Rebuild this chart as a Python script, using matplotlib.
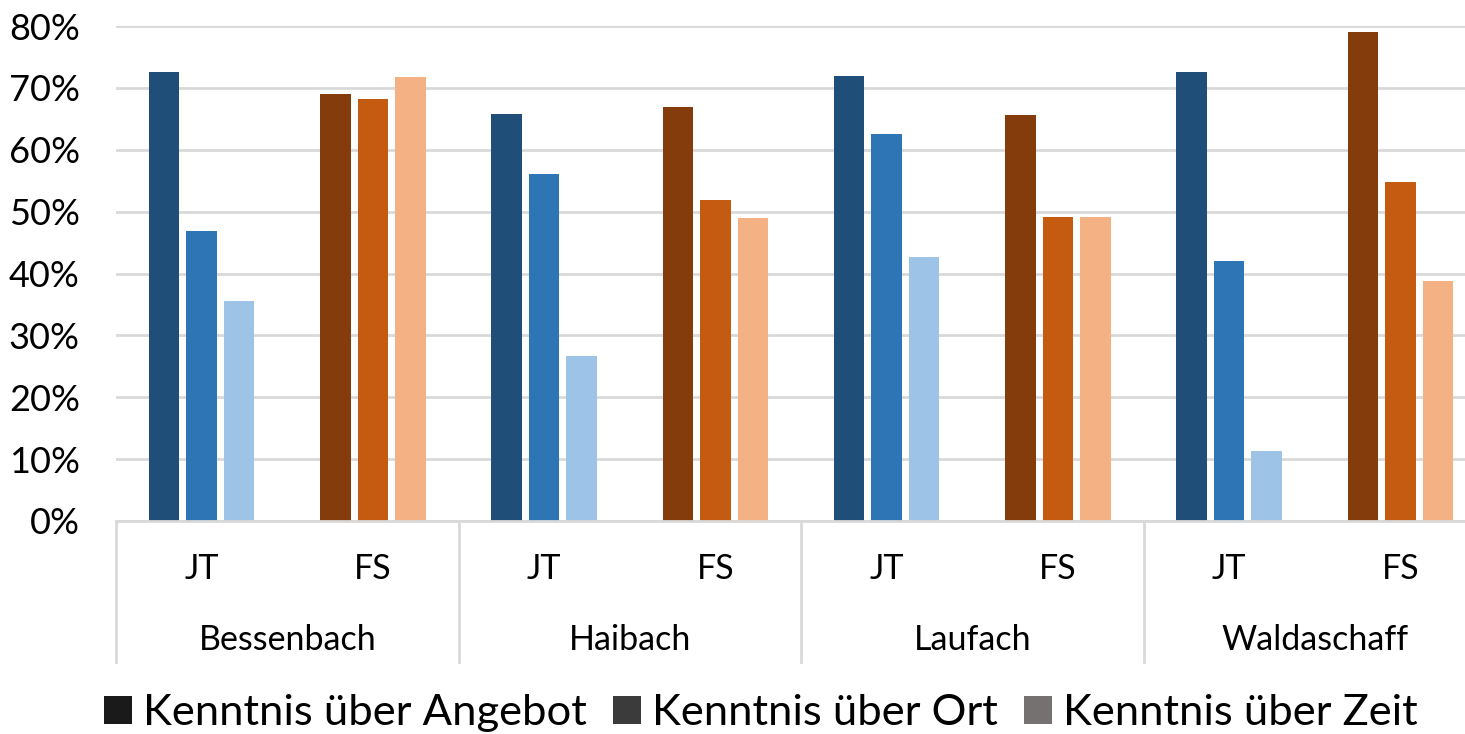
import matplotlib
matplotlib.use("Agg")
import matplotlib.pyplot as plt
import matplotlib.transforms as mtransforms
from matplotlib.patches import Patch
import numpy as np

# Data
towns = ["Bessenbach", "Haibach", "Laufach", "Waldaschaff"]
groups = ["JT", "FS"]
series = ["Kenntnis über Angebot", "Kenntnis über Ort", "Kenntnis über Zeit"]

# values in percent, order: town x group
angebot = [72.5, 69.0, 65.8, 66.9, 71.9, 65.6, 72.5, 79.0]
ort     = [46.8, 68.2, 56.1, 51.9, 62.5, 49.1, 42.0, 54.8]
zeit    = [35.5, 71.7, 26.7, 48.9, 42.6, 49.1, 11.3, 38.8]

yticks = [0, 10, 20, 30, 40, 50, 60, 70, 80]

jt_colors = ["#1F4E79", "#2E75B6", "#9DC3E6"]
fs_colors = ["#843C0C", "#C55A11", "#F4B183"]
legend_colors = ["#1a1a1a", "#3b3b3b", "#767171"]

plt.rcParams["font.family"] = ["Lato", "DejaVu Sans"]

W, H = 1465, 734
fig = plt.figure(figsize=(W / 100, H / 100), dpi=100)
# the plot area runs a little past the right edge of the figure
left_px, right_px, top_px, bot_px = 116, 1486, 26, 521
ax = fig.add_axes([left_px / W, 1 - bot_px / H,
                   (right_px - left_px) / W, (bot_px - top_px) / H])

n = len(angebot)
centers = np.arange(n) + 0.5
offsets = [-0.219, 0.0, 0.219]
width = 0.178
values = [angebot, ort, zeit]
for s in range(3):
    cols = [jt_colors[s] if i % 2 == 0 else fs_colors[s] for i in range(n)]
    ax.bar(centers + offsets[s], values[s], width=width, color=cols,
           zorder=3)

ax.set_xlim(0, n)
ax.set_ylim(0, 80)
ax.set_yticks(yticks)
ax.set_yticklabels([f"{v}%" for v in yticks], fontsize=26)
ax.tick_params(axis="y", length=0, pad=26)
ax.set_xticks([])
ax.yaxis.grid(True, color="#d9d9d9", linewidth=2, zorder=0)
for sp in ["top", "right", "left"]:
    ax.spines[sp].set_visible(False)
ax.spines["bottom"].set_color("#d9d9d9")
ax.spines["bottom"].set_linewidth(2)
ax.spines["bottom"].set_zorder(4)

# hierarchical category axis below the plot
trans = mtransforms.blended_transform_factory(ax.transData, ax.transAxes)
axis_h = bot_px - top_px
y_low = -(662 - bot_px) / axis_h
for xb in [0, 2, 4, 6, 8]:
    ax.plot([xb, xb], [0, y_low], transform=trans, color="#d9d9d9",
            linewidth=2, clip_on=False)

y_grp = -(569 - bot_px) / axis_h
y_town = -(640 - bot_px) / axis_h
for i in range(n):
    ax.text(centers[i], y_grp, groups[i % 2], transform=trans, ha="center",
            va="center", fontsize=24.5)
for t, town in enumerate(towns):
    ax.text(2 * t + 1, y_town, town, transform=trans, ha="center",
            va="center", fontsize=24.5)

handles = [Patch(facecolor=c, edgecolor="none") for c in legend_colors]
fig.legend(handles, series, loc="center", bbox_to_anchor=(761 / W, 1 - 713 / H),
           ncol=3, frameon=False, fontsize=31.3, handlelength=0.64,
           handleheight=0.62, handletextpad=0.26, columnspacing=0.6,
           borderaxespad=0, borderpad=0)

fig.savefig("out.png", dpi=100)
